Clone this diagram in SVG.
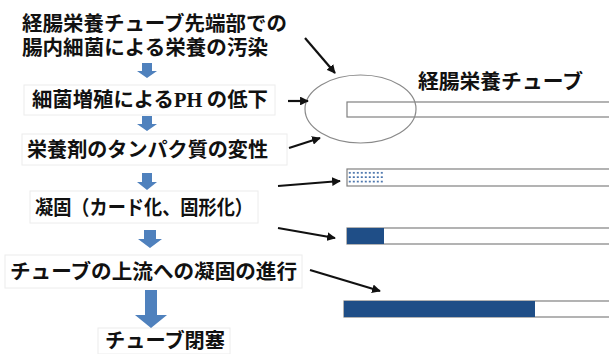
<svg xmlns="http://www.w3.org/2000/svg" width="609" height="354" viewBox="0 0 609 354">
<defs>
<style>
.t{font-family:"Noto Sans CJK JP","Noto Sans",sans-serif;font-size:20px;font-weight:bold;fill:#111;}
.box{fill:#fff;stroke:#ececec;stroke-width:1;}
.blue{fill:#4f81bd;}
.tube{fill:#fff;stroke:#808080;stroke-width:1.2;}
.fill{fill:#1f4e87;}
.con{stroke:#111;stroke-width:2.2;fill:none;marker-end:url(#ah);}
</style>
<marker id="ah" viewBox="0 0 10 10" refX="9" refY="5" markerWidth="4" markerHeight="4" orient="auto" markerUnits="strokeWidth">
<path d="M0,0 L10,5 L0,10 z" fill="#111"/>
</marker>
<pattern id="dots" x="348" y="171" width="4" height="4.4" patternUnits="userSpaceOnUse">
<rect x="0.8" y="1" width="2" height="1.6" fill="#3c6aa6"/>
</pattern>
</defs>
<rect width="609" height="354" fill="#fff"/>

<g id="step0">
<text class="t"><tspan x="22" y="31" textLength="265" lengthAdjust="spacingAndGlyphs">経腸栄養チューブ先端部での</tspan><tspan x="22" y="55" textLength="246" lengthAdjust="spacingAndGlyphs">腸内細菌による栄養の汚染</tspan></text>
</g>
<g id="step1">
<rect class="box" x="24" y="85" width="251" height="30"/>
<text class="t" x="32" y="107" textLength="236" lengthAdjust="spacingAndGlyphs">細菌増殖による<tspan font-family="'Liberation Serif',serif">PH</tspan> の低下</text>
</g>
<g id="step2">
<rect class="box" x="22" y="134" width="265" height="31"/>
<text class="t" x="27" y="157" textLength="241" lengthAdjust="spacingAndGlyphs">栄養剤のタンパク質の変性</text>
</g>
<g id="step3">
<rect class="box" x="30" y="191" width="228" height="32"/>
<text class="t" x="35" y="215" textLength="218" lengthAdjust="spacingAndGlyphs">凝固（カード化、固形化）</text>
</g>
<g id="step4">
<rect class="box" x="5" y="255" width="297" height="33"/>
<text class="t" x="10" y="279" textLength="287" lengthAdjust="spacingAndGlyphs">チューブの上流への凝固の進行</text>
</g>
<g id="step5">
<rect class="box" x="98" y="328" width="132" height="26"/>
<text class="t" x="105" y="348" textLength="120" lengthAdjust="spacingAndGlyphs">チューブ閉塞</text>
</g>

<g id="flow-arrows">
<path class="blue" d="M142,63 H152 V71 H157 L147,78 L137,71 H142 Z"/>
<path class="blue" d="M142,116 H152 V124 H157 L147,131 L137,124 H142 Z"/>
<path class="blue" d="M142,173 H152 V182 H157 L147,190 L137,182 H142 Z"/>
<path class="blue" d="M144,230 H156 V239 H162 L150,248 L138,239 H144 Z"/>
<path class="blue" d="M145,290 H157 V315 H167 L151,328 L135,315 H145 Z"/>
</g>

<g id="title">
<text class="t" x="418" y="89" textLength="165" lengthAdjust="spacingAndGlyphs" font-weight="normal">経腸栄養チューブ</text>
</g>

<g id="tube1">
<rect class="tube" x="347" y="102" width="270" height="15"/>
</g>
<g id="tube2">
<rect class="tube" x="347" y="169" width="270" height="17"/>
<rect x="348" y="171" width="36" height="14" fill="url(#dots)"/>
</g>
<g id="tube3">
<rect class="tube" x="347" y="228" width="270" height="16"/>
<rect class="fill" x="347" y="228" width="37" height="16"/>
</g>
<g id="tube4">
<rect class="tube" x="344" y="301" width="273" height="16"/>
<rect class="fill" x="344" y="301" width="191" height="16"/>
</g>
<g id="tip-ellipse">
<ellipse cx="360.5" cy="109" rx="55.5" ry="34" fill="none" stroke="#8a8a8a" stroke-width="1.2"/>
</g>

<g id="connectors">
<line class="con" x1="305" y1="38" x2="335" y2="73"/>
<line class="con" x1="288" y1="101" x2="308" y2="101"/>
<line class="con" x1="289" y1="148" x2="320" y2="138"/>
<line class="con" x1="278" y1="186" x2="340" y2="181"/>
<line class="con" x1="278" y1="228" x2="335" y2="238"/>
<line class="con" x1="310" y1="270" x2="380" y2="291"/>
</g>
</svg>
